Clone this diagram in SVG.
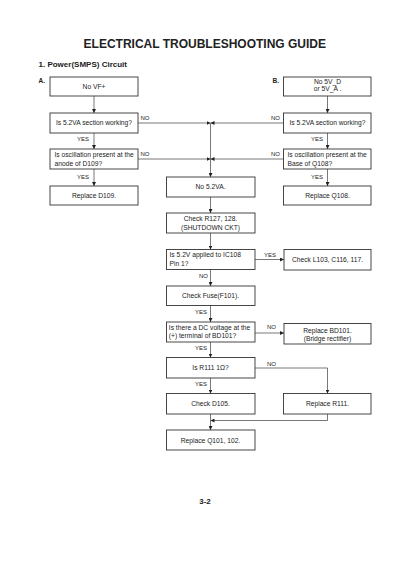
<svg xmlns="http://www.w3.org/2000/svg" width="400" height="566" viewBox="0 0 400 566">
<style>
  text { font-family: "Liberation Sans", Arial, sans-serif; fill: #222; }
  .title { font-size: 12px; font-weight: bold; }
  .sec { font-size: 8px; font-weight: bold; }
  .lbl { font-size: 6.5px; font-weight: bold; }
  .t { font-size: 6.7px; }
  .c { text-anchor: middle; }
  .yn { font-size: 6px; }
  .box { fill: #fff; stroke: #333; stroke-width: 0.9; }
  .ln { fill: none; stroke: #555; stroke-width: 0.8; }
</style>
<defs>
  <marker id="ah" markerUnits="userSpaceOnUse" markerWidth="4" markerHeight="4" refX="4" refY="2" orient="auto">
    <path d="M0,0 L4,2 L0,4 z" fill="#222"/>
  </marker>
</defs>
<rect width="400" height="566" fill="#fff"/>
<text class="title c" x="204.8" y="47.5">ELECTRICAL TROUBLESHOOTING GUIDE</text>
<text class="sec" x="38.5" y="67">1. Power(SMPS) Circuit</text>
<text class="lbl" x="38.5" y="83">A.</text>
<text class="lbl" x="272.5" y="82.5">B.</text>

<g id="connectors">
  <path class="ln" d="M94,96 V113" marker-end="url(#ah)"/>
  <path class="ln" d="M94,133 V149" marker-end="url(#ah)"/>
  <path class="ln" d="M94,169 V186" marker-end="url(#ah)"/>
  <path class="ln" d="M138,123 H210.5" marker-end="url(#ah)"/>
  <path class="ln" d="M138,159 H210.5" marker-end="url(#ah)"/>
  <path class="ln" d="M327.5,96 V113" marker-end="url(#ah)"/>
  <path class="ln" d="M327.5,133 V149" marker-end="url(#ah)"/>
  <path class="ln" d="M327.5,169 V186" marker-end="url(#ah)"/>
  <path class="ln" d="M283.5,123 H210.5" marker-end="url(#ah)"/>
  <path class="ln" d="M283.5,159 H210.5" marker-end="url(#ah)"/>
  <path class="ln" d="M210.5,123 V177" marker-end="url(#ah)"/>
  <path class="ln" d="M210.5,197 V213" marker-end="url(#ah)"/>
  <path class="ln" d="M210.5,233 V249.5" marker-end="url(#ah)"/>
  <path class="ln" d="M255,259.5 H284" marker-end="url(#ah)"/>
  <path class="ln" d="M210.5,269.5 V286" marker-end="url(#ah)"/>
  <path class="ln" d="M210.5,305.5 V322" marker-end="url(#ah)"/>
  <path class="ln" d="M255,333 H284" marker-end="url(#ah)"/>
  <path class="ln" d="M210.5,342 V357.5" marker-end="url(#ah)"/>
  <path class="ln" d="M255,368 H327.5 V393.5" marker-end="url(#ah)"/>
  <path class="ln" d="M210.5,378 V393.5" marker-end="url(#ah)"/>
  <path class="ln" d="M210.5,414 V430" marker-end="url(#ah)"/>
  <path class="ln" d="M327.5,414 V420.5 H210.5" marker-end="url(#ah)"/>
</g>

<g id="labels">
  <text class="yn" x="140.5" y="120">NO</text>
  <text class="yn" x="140.5" y="156">NO</text>
  <text class="yn" x="77" y="141">YES</text>
  <text class="yn" x="77" y="178.5">YES</text>
  <text class="yn" x="271" y="120">NO</text>
  <text class="yn" x="271" y="156">NO</text>
  <text class="yn" x="311" y="141">YES</text>
  <text class="yn" x="311" y="178.5">YES</text>
  <text class="yn" x="264" y="257">YES</text>
  <text class="yn" x="199" y="278">NO</text>
  <text class="yn" x="195" y="314">YES</text>
  <text class="yn" x="267" y="328.5">NO</text>
  <text class="yn" x="195" y="349.5">YES</text>
  <text class="yn" x="267" y="365.5">NO</text>
  <text class="yn" x="195" y="386">YES</text>
</g>

<g id="a1"><rect class="box" x="50" y="77" width="88" height="19"/><text class="t c" x="94" y="89">No VF+</text></g>
<g id="a2"><rect class="box" x="50" y="113" width="88" height="20"/><text class="t c" x="94" y="125.3">Is 5.2VA section working?</text></g>
<g id="a3"><rect class="box" x="50" y="149" width="88" height="20"/><text class="t" x="54.5" y="157">Is oscillation present at the</text><text class="t" x="54.5" y="165.5">anode of D109?</text></g>
<g id="a4"><rect class="box" x="50" y="186" width="88" height="19"/><text class="t c" x="94" y="198">Replace D109.</text></g>

<g id="b1"><rect class="box" x="283.5" y="77" width="87.5" height="19"/><text class="t c" x="327.5" y="84.3">No 5V_D</text><text class="t c" x="327.5" y="91.3">or 5V_A .</text></g>
<g id="b2"><rect class="box" x="283.5" y="113" width="87.5" height="20"/><text class="t c" x="327.5" y="125.3">Is 5.2VA section working?</text></g>
<g id="b3"><rect class="box" x="283.5" y="149" width="87.5" height="20"/><text class="t" x="287.5" y="157">Is oscillation present at the</text><text class="t" x="287.5" y="165.5">Base of Q108?</text></g>
<g id="b4"><rect class="box" x="283.5" y="186" width="87.5" height="19"/><text class="t c" x="327.5" y="198">Replace Q108.</text></g>

<g id="m1"><rect class="box" x="166.5" y="177" width="88.5" height="20"/><text class="t c" x="210.5" y="189.3">No 5.2VA.</text></g>
<g id="m2"><rect class="box" x="166.5" y="213" width="88.5" height="20"/><text class="t c" x="210.5" y="221.3">Check R127, 128.</text><text class="t c" x="210.5" y="230">(SHUTDOWN CKT)</text></g>
<g id="m3"><rect class="box" x="166.5" y="249.5" width="88.5" height="20"/><text class="t" x="169.5" y="257.3">Is 5.2V applied to IC108</text><text class="t" x="169.5" y="265.8">Pin 1?</text></g>
<g id="r1"><rect class="box" x="284" y="249.5" width="87" height="20.5"/><text class="t c" x="327.5" y="262">Check L103, C116, 117.</text></g>
<g id="m4"><rect class="box" x="166.5" y="286" width="88.5" height="19.5"/><text class="t c" x="210.5" y="298">Check Fuse(F101).</text></g>
<g id="m5"><rect class="box" x="166.5" y="322" width="88.5" height="20"/><text class="t" x="168.8" y="329.8">Is there a DC voltage at the</text><text class="t" x="168.8" y="338.3">(+) terminal of BD101?</text></g>
<g id="r2"><rect class="box" x="284" y="323.5" width="87" height="20.5"/><text class="t c" x="327.5" y="333">Replace BD101.</text><text class="t c" x="327.5" y="340.8">(Bridge rectifier)</text></g>
<g id="m6"><rect class="box" x="166.5" y="357.5" width="88.5" height="20.5"/><text class="t c" x="210.5" y="370">Is R111 1Ω?</text></g>
<g id="m7"><rect class="box" x="166.5" y="393.5" width="88.5" height="20.5"/><text class="t c" x="210.5" y="406">Check D105.</text></g>
<g id="r3"><rect class="box" x="283.5" y="393.5" width="87.5" height="20.5"/><text class="t c" x="327.5" y="406">Replace R111.</text></g>
<g id="m8"><rect class="box" x="166.5" y="430" width="88.5" height="20"/><text class="t c" x="210.5" y="442.5">Replace Q101, 102.</text></g>

<text class="c" x="205" y="503.5" font-size="7.9" font-weight="bold">3-2</text>
</svg>
